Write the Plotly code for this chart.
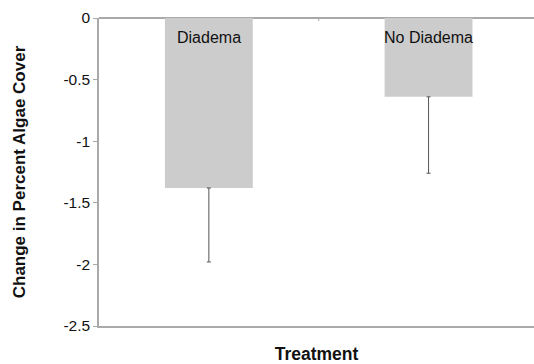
import plotly.graph_objects as go

categories = ["Diadema", "No Diadema"]
change = [-1.38, -0.64]
error_minus = [0.60, 0.62]
y_ticks = [0, -0.5, -1, -1.5, -2, -2.5]
y_tick_labels = ["0", "-0.5", "-1", "-1.5", "-2", "-2.5"]

FONT = "Liberation Sans, Arial, Helvetica, sans-serif"
AXIS_GRAY = "#a9a9a9"

fig = go.Figure()
fig.add_trace(go.Bar(
    x=list(range(len(categories))),
    y=change,
    width=0.40,
    marker=dict(color="#cccccc", line=dict(width=0)),
    error_y=dict(type="data", symmetric=False, array=[0] * len(change),
                 arrayminus=error_minus, color="#555555", thickness=1, width=2),
    showlegend=False,
))

for i, name in enumerate(categories):
    fig.add_annotation(x=i, y=0, xref="x", yref="y", text=name, showarrow=False,
                       yanchor="top", yshift=-9, font=dict(family=FONT, size=16, color="#111111"))

# small category divider tick on the zero (category) axis
fig.add_shape(type="line", xref="x", yref="y", x0=0.5, x1=0.5, y0=0, y1=-0.025,
              line=dict(color=AXIS_GRAY, width=1))

fig.update_layout(
    width=534, height=364,
    margin=dict(l=99, r=0, t=18, b=38),
    paper_bgcolor="white", plot_bgcolor="white",
    font=dict(family=FONT, size=15.5, color="#111111"),
    bargap=0.6,
    xaxis=dict(range=[-0.5, 1.48], showticklabels=False, ticks="", showgrid=False,
               zeroline=False, showline=True, linecolor=AXIS_GRAY, linewidth=1.5,
               title=dict(text="<b>Treatment</b>", font=dict(family=FONT, size=17.5, color="#111111"),
                          standoff=22)),
    yaxis=dict(range=[-2.5, 0], tickvals=y_ticks, ticktext=y_tick_labels,
               ticks="outside", ticklen=4, tickcolor=AXIS_GRAY, tickwidth=1,
               showgrid=False, zeroline=True, zerolinecolor=AXIS_GRAY, zerolinewidth=1.5,
               showline=True, linecolor=AXIS_GRAY, linewidth=1.5,
               tickfont=dict(family=FONT, size=15.5, color="#111111"),
               title=dict(text="<b>Change in Percent Algae Cover</b>",
                          font=dict(family=FONT, size=17, color="#111111"), standoff=33)),
)

fig.write_html("out.html")
